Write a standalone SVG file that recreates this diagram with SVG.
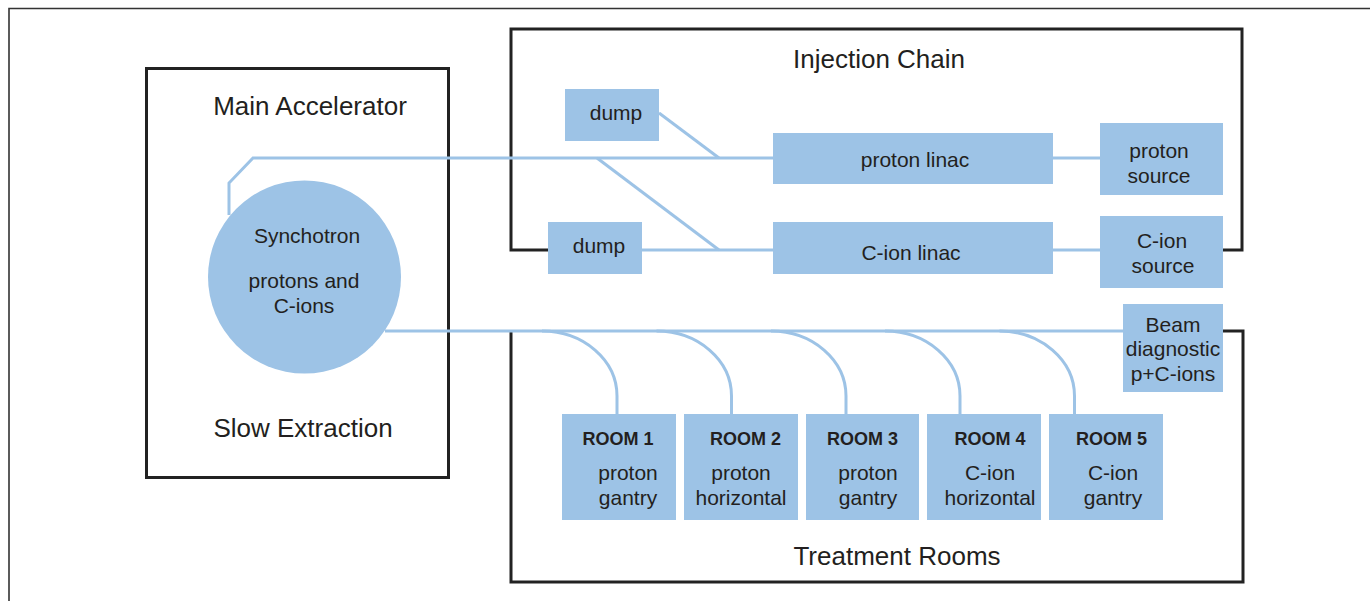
<svg xmlns="http://www.w3.org/2000/svg" width="1370" height="601" viewBox="0 0 1370 601">
<style>
.frame{fill:none;stroke:#333;stroke-width:1.6}
.box{fill:none;stroke:#222;stroke-width:3}
.node{fill:#9dc3e6}
.beam{fill:none;stroke:#9dc3e6;stroke-width:3}
text{font-family:"Liberation Sans",Arial,sans-serif;fill:#231f20;text-anchor:middle}
.title{font-size:26px}
.lbl{font-size:21px}
.room{font-size:18px;font-weight:bold}
</style>
<rect width="1370" height="601" fill="#fff"/>
<path class="frame" d="M9,601 L9,8.5 L1370,8.5"/>

<g id="main-accelerator">
<rect class="box" x="146.5" y="68.5" width="302" height="409"/>
<text class="title" x="310" y="115">Main Accelerator</text>
<text class="title" x="303" y="437">Slow Extraction</text>
</g>
<g id="injection-chain">
<path class="box" d="M548,250 L511,250 L511,29 L1242,29 L1242,250 L1223,250"/>
<text class="title" x="879" y="68">Injection Chain</text>
</g>
<g id="treatment-rooms">
<path class="box" d="M1223,331 L1243,331 L1243,582 L511,582 L511,331"/>
<text class="title" x="897" y="565">Treatment Rooms</text>
</g>

<g id="connectors">
<path class="beam" d="M229,215 L229,183 L253,158 L773,158"/>
<path class="beam" d="M659,113 L719,158"/>
<path class="beam" d="M597,158 L719,250"/>
<path class="beam" d="M642,250 L773,250"/>
<path class="beam" d="M1053,158 L1100,158"/>
<path class="beam" d="M1053,250 L1100,250"/>
<path class="beam" d="M385,331 L1123,331"/>
<path class="beam" d="M542,331 A75,65 0 0 1 617,396 L617,414"/>
<path class="beam" d="M656.5,331 A75,65 0 0 1 731.5,396 L731.5,414"/>
<path class="beam" d="M771,331 A75,65 0 0 1 846,396 L846,414"/>
<path class="beam" d="M885,331 A75,65 0 0 1 960,396 L960,414"/>
<path class="beam" d="M999.5,331 A75,65 0 0 1 1074.5,396 L1074.5,414"/>
</g>

<g id="synchrotron">
<circle class="node" cx="304.5" cy="277" r="96.5"/>
<text class="lbl" x="307" y="243">Synchotron</text>
<text class="lbl" x="304" y="288">protons and</text>
<text class="lbl" x="304" y="313">C-ions</text>
</g>
<g id="dump1">
<rect class="node" x="565" y="89" width="94" height="52"/>
<text class="lbl" x="616" y="120">dump</text>
</g>
<g id="dump2">
<rect class="node" x="548" y="222" width="94" height="52"/>
<text class="lbl" x="599" y="253">dump</text>
</g>
<g id="proton-linac">
<rect class="node" x="773" y="133" width="280" height="51"/>
<text class="lbl" x="915" y="167">proton linac</text>
</g>
<g id="cion-linac">
<rect class="node" x="773" y="222" width="280" height="52"/>
<text class="lbl" x="911" y="260">C-ion linac</text>
</g>
<g id="proton-source">
<rect class="node" x="1100" y="123" width="123" height="72"/>
<text class="lbl" x="1159" y="158">proton</text>
<text class="lbl" x="1159" y="183">source</text>
</g>
<g id="cion-source">
<rect class="node" x="1100" y="216" width="123" height="72"/>
<text class="lbl" x="1162" y="248">C-ion</text>
<text class="lbl" x="1163" y="273">source</text>
</g>
<g id="beam-diagnostic">
<rect class="node" x="1123" y="304" width="100" height="88"/>
<text class="lbl" x="1173" y="332">Beam</text>
<text class="lbl" x="1173" y="356">diagnostic</text>
<text class="lbl" x="1173" y="381">p+C-ions</text>
</g>
<g id="room1">
<rect class="node" x="562" y="414" width="114" height="106"/>
<text class="room" x="618" y="445">ROOM 1</text>
<text class="lbl" x="628" y="480">proton</text>
<text class="lbl" x="628" y="505">gantry</text>
</g>
<g id="room2">
<rect class="node" x="684" y="414" width="114" height="106"/>
<text class="room" x="745.5" y="445">ROOM 2</text>
<text class="lbl" x="741" y="480">proton</text>
<text class="lbl" x="741" y="505">horizontal</text>
</g>
<g id="room3">
<rect class="node" x="806" y="414" width="113" height="106"/>
<text class="room" x="862.5" y="445">ROOM 3</text>
<text class="lbl" x="868" y="480">proton</text>
<text class="lbl" x="868" y="505">gantry</text>
</g>
<g id="room4">
<rect class="node" x="927" y="414" width="114" height="106"/>
<text class="room" x="990" y="445">ROOM 4</text>
<text class="lbl" x="990" y="480">C-ion</text>
<text class="lbl" x="990" y="505">horizontal</text>
</g>
<g id="room5">
<rect class="node" x="1049" y="414" width="114" height="106"/>
<text class="room" x="1111.5" y="445">ROOM 5</text>
<text class="lbl" x="1113" y="480">C-ion</text>
<text class="lbl" x="1113" y="505">gantry</text>
</g>
</svg>
